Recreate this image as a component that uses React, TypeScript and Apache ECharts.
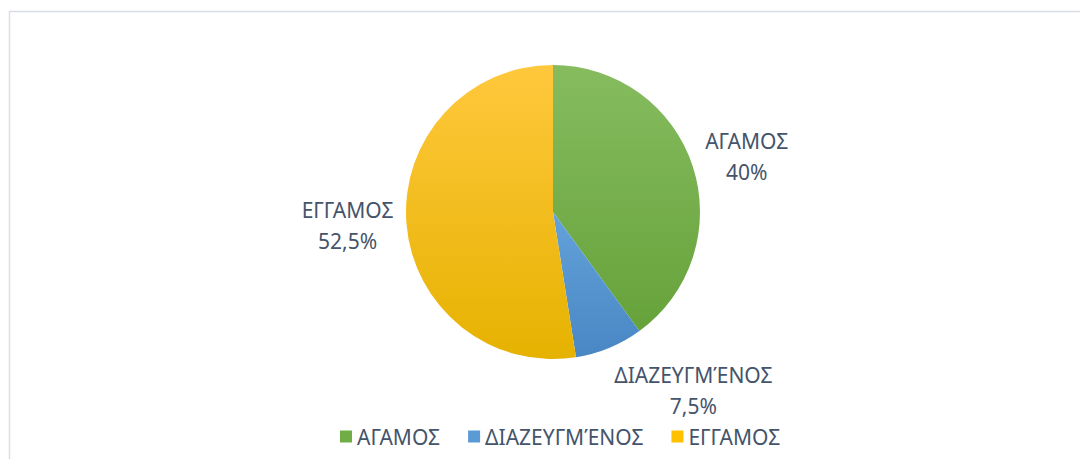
import React, { useEffect, useRef } from "react";
import * as echarts from "echarts";

const categories = ["ΑΓΑΜΟΣ", "ΔΙΑΖΕΥΓΜΈΝΟΣ", "ΕΓΓΑΜΟΣ"];
const values = [40, 7.5, 52.5];
const valueLabels = ["40%", "7,5%", "52,5%"];

const topColors = ["#86bc5f", "#64a2da", "#ffc83d"];
const bottomColors = ["#66a23a", "#4887c4", "#e6b200"];
const legendColors = ["#70ad47", "#5b9bd5", "#ffc000"];

const CX = 545;
const CY = 204;
const R = 147;
const LABEL_GAP = 13;
const TEXT = "#44546a";
const FONT = "'Noto Sans', 'DejaVu Sans', sans-serif";
const FS = 21;

const clamp = (v: number) => Math.max(-1, Math.min(1, v));

export default function App() {
  const ref = useRef<HTMLDivElement>(null);
  useEffect(() => {
    if (!ref.current) return;
    const chart = echarts.init(ref.current, undefined, { renderer: "svg" });
    const total = values.reduce((a, b) => a + b, 0);
    const mids: number[] = [];
    let acc = 0;
    values.forEach((v) => {
      mids.push(((acc + v / 2) / total) * Math.PI * 2);
      acc += v;
    });
    chart.setOption({
      animation: false,
      backgroundColor: "#ffffff",
      graphic: [
        {
          type: "rect",
          shape: { x: 1.5, y: 3.5, width: 1200, height: 600 },
          style: { fill: "none", stroke: "#d9dee6", lineWidth: 1.5 },
          silent: true,
        },
      ],
      legend: {
        bottom: 7,
        left: 327,
        icon: "rect",
        itemWidth: 12,
        itemHeight: 12,
        itemGap: 28,
        textStyle: { color: TEXT, fontSize: FS, fontFamily: FONT },
        data: categories.map((c, i) => ({ name: c, itemStyle: { color: legendColors[i] } })),
      },
      series: [
        {
          type: "pie",
          center: [CX, CY],
          radius: R,
          startAngle: 90,
          clockwise: true,
          avoidLabelOverlap: false,
          labelLine: { show: false },
          label: {
            show: true,
            position: "outside",
            color: TEXT,
            fontSize: FS,
            fontFamily: FONT,
            lineHeight: 31,
            align: "center",
            formatter: (p: any) => `${p.name}\n${valueLabels[p.dataIndex]}`,
          },
          labelLayout: (p: any) => {
            const a = mids[p.dataIndex];
            const ux = Math.sin(a);
            const uy = -Math.cos(a);
            const w = p.labelRect.width;
            const h = p.labelRect.height;
            const ax = CX + ux * (R + LABEL_GAP);
            const ay = CY + uy * (R + LABEL_GAP);
            const sy = Math.sign(uy) * Math.pow(Math.abs(uy), 1.5) / 0.85;
            return {
              x: ax + (w / 2) * clamp(ux / 0.35),
              y: ay + (h / 2) * clamp(sy),
              align: "center",
              verticalAlign: "middle",
            };
          },
          data: categories.map((c, i) => ({
            name: c,
            value: values[i],
            itemStyle: {
              color: new echarts.graphic.LinearGradient(0, 0, 0, 1, [
                { offset: 0, color: topColors[i] },
                { offset: 1, color: bottomColors[i] },
              ]),
            },
          })),
        },
      ],
    });
    return () => chart.dispose();
  }, []);
  return <div ref={ref} style={{ width: 1072, height: 451 }} />;
}
